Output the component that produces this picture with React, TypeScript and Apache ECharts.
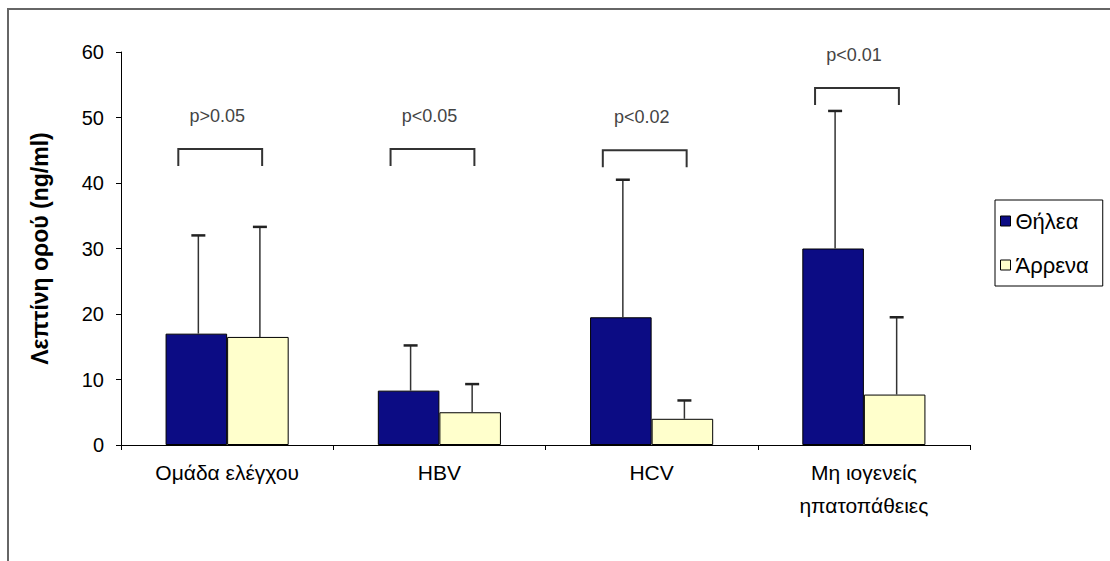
import React, { useEffect, useRef } from "react";
import * as echarts from "echarts";

const categories = ["Ομάδα ελέγχου", "HBV", "HCV", "Μη ιογενείς\nηπατοπάθειες"];
const femaleMeans = [17, 8.3, 19.5, 30];
const femaleUpper = [32, 15.2, 40.5, 51];
const maleMeans = [16.5, 5, 4, 7.7];
const maleUpper = [33.3, 9.3, 6.8, 19.5];
const pLabels = ["p>0.05", "p<0.05", "p<0.02", "p<0.01"];
const bracketLevels = [45.2, 45.2, 45, 54.5];
const yTicks = [0, 10, 20, 30, 40, 50, 60];

const FEMALE = "Θήλεα";
const MALE = "Άρρενα";
const FONT = "'Liberation Sans', Arial, sans-serif";

export default function App() {
  const ref = useRef<HTMLDivElement>(null);

  useEffect(() => {
    if (!ref.current) return;
    const chart = echarts.init(ref.current, null, { renderer: "svg" });

    const errorSeries = (name: string, means: number[], upper: number[], side: number) => ({
      type: "custom",
      name: name + "_err",
      silent: true,
      z: 5,
      data: means.map((m, i) => [i, m, upper[i]]),
      encode: { x: 0, y: [1, 2] },
      renderItem: (params: any, api: any) => {
        const i = api.value(0);
        const bw = api.size([1, 0])[0];
        const off = side * bw * 0.145;
        const p0 = api.coord([i, api.value(1)]);
        const p1 = api.coord([i, api.value(2)]);
        const x = p0[0] + off + 2;
        return {
          type: "group",
          children: [
            {
              type: "line",
              shape: { x1: x, y1: p0[1], x2: x, y2: p1[1] },
              style: { stroke: "#333", lineWidth: 1.5 },
            },
            {
              type: "line",
              shape: { x1: x - 7, y1: p1[1], x2: x + 7, y2: p1[1] },
              style: { stroke: "#222", lineWidth: 2.5 },
            },
          ],
        };
      },
    });

    const option: any = {
      animation: false,
      backgroundColor: "#fff",
      textStyle: { fontFamily: FONT },
      grid: { left: 121, right: 140, top: 52, bottom: 116 },
      legend: {
        data: [FEMALE, MALE],
        orient: "vertical",
        left: 995,
        top: 200,
        padding: [10, 14, 10, 5],
        borderColor: "#000",
        borderWidth: 1,
        backgroundColor: "#fff",
        itemWidth: 10,
        itemHeight: 10,
        itemGap: 22,
        itemStyle: { borderColor: "#000", borderWidth: 1 },
        icon: "rect",
        textStyle: { fontSize: 22, color: "#000", fontFamily: FONT },
      },
      xAxis: {
        type: "category",
        data: categories,
        axisLine: { lineStyle: { color: "#000", width: 1 } },
        axisTick: { show: true, length: 5, lineStyle: { color: "#000" } },
        axisLabel: {
          color: "#000",
          fontSize: 21,
          margin: 11,
          lineHeight: 33,
          fontFamily: FONT,
        },
      },
      yAxis: {
        type: "value",
        min: 0,
        max: 60,
        interval: 10,
        name: "Λεπτίνη ορού (ng/ml)",
        nameLocation: "middle",
        nameGap: 70,
        nameTextStyle: { fontSize: 23, fontWeight: "bold", color: "#000", fontFamily: FONT },
        axisLine: { show: true, lineStyle: { color: "#000", width: 1 } },
        axisTick: { show: true, length: 5, lineStyle: { color: "#000" } },
        splitLine: { show: false },
        axisLabel: {
          color: "#000",
          fontSize: 20,
          margin: 17,
          fontFamily: FONT,
          formatter: (v: number) => (yTicks.includes(v) ? String(v) : ""),
        },
      },
      series: [
        {
          type: "bar",
          name: FEMALE,
          data: femaleMeans,
          barWidth: "29%",
          barGap: "0%",
          itemStyle: { color: "#0c0c84", borderColor: "#000", borderWidth: 1 },
        },
        {
          type: "bar",
          name: MALE,
          data: maleMeans,
          barWidth: "29%",
          barGap: "0%",
          itemStyle: { color: "#ffffcc", borderColor: "#000", borderWidth: 1 },
        },
        errorSeries(FEMALE, femaleMeans, femaleUpper, -1),
        errorSeries(MALE, maleMeans, maleUpper, 1),
        {
          type: "custom",
          name: "brackets",
          silent: true,
          z: 6,
          data: bracketLevels.map((b, i) => [i, b, pLabels[i]]),
          encode: { x: 0, y: 1 },
          renderItem: (params: any, api: any) => {
            const i = api.value(0);
            const bw = api.size([1, 0])[0];
            const c = api.coord([i, api.value(1)]);
            const left = c[0] - bw * 0.23;
            const right = c[0] + bw * 0.165;
            const y = c[1];
            return {
              type: "group",
              children: [
                {
                  type: "polyline",
                  shape: { points: [[left, y + 17], [left, y], [right, y], [right, y + 17]] },
                  style: { stroke: "#333", lineWidth: 2, fill: null },
                },
                {
                  type: "text",
                  x: (left + right) / 2 - 3,
                  y: y - 33,
                  style: {
                    text: pLabels[i],
                    fontSize: 18,
                    fontFamily: FONT,
                    fill: "#444",
                    align: "center",
                    verticalAlign: "middle",
                  },
                },
              ],
            };
          },
        },
      ],
      graphic: [
        {
          type: "polyline",
          silent: true,
          shape: { points: [[8, 561], [8, 9], [1110, 9]] },
          style: { stroke: "#666", lineWidth: 2, fill: null },
        },
      ],
    };

    chart.setOption(option);
    return () => chart.dispose();
  }, []);

  return (
    <div
      ref={ref}
      style={{ position: "fixed", left: 0, top: 0, width: 1110, height: 561, background: "#fff" }}
    />
  );
}
